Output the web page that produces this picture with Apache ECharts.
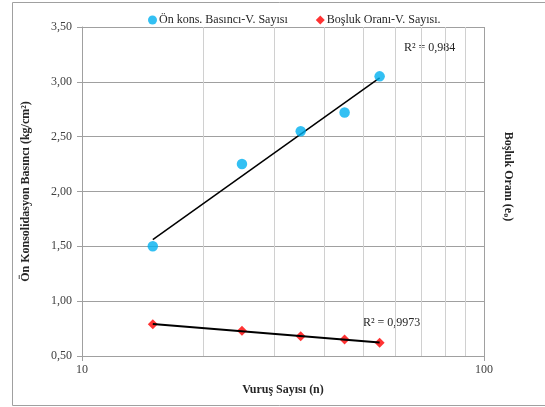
<!DOCTYPE html>
<html>
<head>
<meta charset="utf-8">
<script src="https://cdn.jsdelivr.net/npm/echarts@6/dist/echarts.min.js"></script>
<style>
html,body{margin:0;padding:0;background:#fff;}
#chart{width:545px;height:407px;}
</style>
</head>
<body>
<div id="chart"></div>
<script>
// Data
const vurusSayisi = [15, 25, 35, 45, 55];
const onKonsBasinci = [1.50, 2.25, 2.55, 2.72, 3.05];
const boslukOrani = [0.79, 0.73, 0.68, 0.65, 0.62];
const xTicksMinor = [20, 30, 40, 50, 60, 70, 80, 90];
const yTicks = [0.5, 1.0, 1.5, 2.0, 2.5, 3.0, 3.5];
const r2Labels = ['R² = 0,984', 'R² = 0,9973'];

// Logarithmic trend line (y = a ln x + b) fitted to the data
function logFit(xs, ys) {
  const lx = xs.map(Math.log);
  const n = xs.length;
  const mx = lx.reduce((a, b) => a + b, 0) / n;
  const my = ys.reduce((a, b) => a + b, 0) / n;
  let sxy = 0, sxx = 0;
  for (let i = 0; i < n; i++) { sxy += (lx[i] - mx) * (ys[i] - my); sxx += (lx[i] - mx) ** 2; }
  const a = sxy / sxx, b = my - a * mx;
  const x0 = xs[0], x1 = xs[n - 1];
  return [[x0, a * Math.log(x0) + b], [x1, a * Math.log(x1) + b]];
}

const serif = '"Liberation Serif", "Times New Roman", serif';
const chart = echarts.init(document.getElementById('chart'));
chart.setOption({
  backgroundColor: '#fff',
  animation: false,
  textStyle: { fontFamily: serif },
  graphic: [
    { type: 'rect', shape: { x: 12.5, y: 2.5, width: 560, height: 403 }, style: { fill: 'none', stroke: '#a0a0a0', lineWidth: 1 }, z: -10 },
    { type: 'text', left: 404, top: 42, style: { text: r2Labels[0], font: '12px ' + serif, fill: '#262626' } },
    { type: 'text', left: 363, top: 317, style: { text: r2Labels[1], font: '12px ' + serif, fill: '#262626' } }
  ],
  legend: {
    top: 9, left: 143,
    itemWidth: 9, itemHeight: 9, itemGap: 28,
    textStyle: { fontFamily: serif, fontSize: 12, color: '#262626', padding: [0, 0, 0, -3] },
    data: [
      { name: 'Ön kons. Basıncı-V. Sayısı', icon: 'circle' },
      { name: 'Boşluk Oranı-V. Sayısı.', icon: 'diamond' }
    ]
  },
  grid: { left: 82, right: 61, top: 27, bottom: 51, containLabel: false },
  xAxis: {
    type: 'log', logBase: 10, min: 10, max: 100,
    name: 'Vuruş Sayısı (n)', nameLocation: 'middle', nameGap: 28,
    nameTextStyle: { fontFamily: serif, fontWeight: 'bold', fontSize: 12, color: '#262626' },
    axisLine: { lineStyle: { color: '#a0a0a0' } },
    axisTick: { show: true, length: 5, lineStyle: { color: '#a0a0a0' } },
    axisLabel: { fontFamily: serif, fontSize: 12, color: '#404040', margin: 8 },
    splitLine: { show: true, lineStyle: { color: '#a0a0a0' } },
    minorTick: { show: false }, minorSplitLine: { show: false }
  },
  yAxis: [
    {
      type: 'value', min: 0.5, max: 3.5, interval: 0.5,
      name: 'Ön Konsolidasyon Basıncı (kg/cm²)', nameLocation: 'middle', nameGap: 50,
      nameTextStyle: { fontFamily: serif, fontWeight: 'bold', fontSize: 12, color: '#262626', padding: [0, 0, 0, 0] },
      axisLine: { show: true, lineStyle: { color: '#a0a0a0' } },
      axisTick: { show: true, length: 5, lineStyle: { color: '#a0a0a0' } },
      axisLabel: { fontFamily: serif, fontSize: 12, color: '#404040', margin: 10,
        formatter: v => v.toFixed(2).replace('.', ',') },
      splitLine: { show: true, lineStyle: { color: '#a0a0a0' } }
    },
    {
      type: 'value', min: 0.5, max: 3.5, position: 'right',
      name: '{b|Boşluk Oranı (e}{s|o}{b|)}', nameLocation: 'middle', nameGap: 18,
      nameRotate: -90,
      nameTextStyle: { padding: [0, 30, 0, 0], rich: {
        b: { fontFamily: serif, fontWeight: 'bold', fontSize: 12, color: '#262626' },
        s: { fontFamily: serif, fontWeight: 'bold', fontSize: 8, color: '#262626', verticalAlign: 'bottom', padding: [4, 0, 0, 0] }
      } },
      axisLine: { show: false }, axisTick: { show: false }, axisLabel: { show: false }, splitLine: { show: false }
    }
  ],
  series: [
    {
      type: 'line', name: 'gridMinor', data: [], silent: true, z: 0,
      markLine: {
        silent: true, symbol: 'none', z: 0, animation: false,
        label: { show: false },
        lineStyle: { color: '#d0d0d0', type: 'solid', width: 1 },
        emphasis: { disabled: true },
        data: xTicksMinor.map(v => ({ xAxis: v }))
      }
    },
    {
      type: 'line', name: 'trend1', data: logFit(vurusSayisi, onKonsBasinci),
      showSymbol: false, symbol: 'none', lineStyle: { color: '#000', width: 1.5 }, z: 3, silent: true
    },
    {
      type: 'line', name: 'trend2', data: logFit(vurusSayisi, boslukOrani),
      showSymbol: false, symbol: 'none', lineStyle: { color: '#000', width: 2 }, z: 5, silent: true
    },
    {
      type: 'scatter', name: 'Ön kons. Basıncı-V. Sayısı', symbol: 'circle', symbolSize: 10.5,
      itemStyle: { color: '#00B0F0' }, z: 4,
      data: vurusSayisi.map((x, i) => [x, onKonsBasinci[i]])
    },
    {
      type: 'scatter', name: 'Boşluk Oranı-V. Sayısı.', symbol: 'diamond', symbolSize: 10,
      itemStyle: { color: '#FF0000' }, z: 4,
      data: vurusSayisi.map((x, i) => [x, boslukOrani[i]])
    }
  ]
});
</script>
</body>
</html>
